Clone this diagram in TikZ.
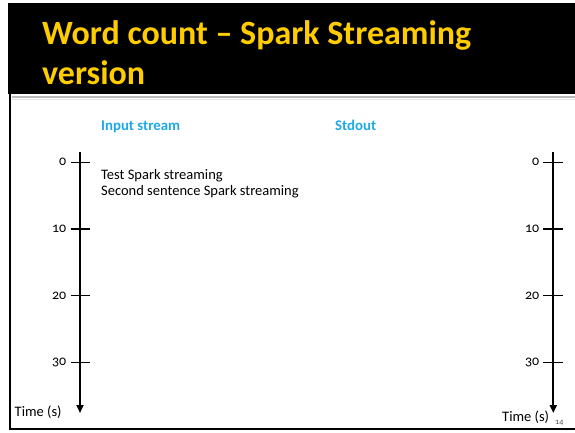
\documentclass[tikz,border=0pt]{standalone}
\usepackage{fontspec}
\setmainfont{Carlito}[Numbers=OldStyle]
\usetikzlibrary{arrows.meta}
\definecolor{titleyellow}{HTML}{FFCC00}
\definecolor{headblue}{HTML}{1EAAE8}
\begin{document}
\begin{tikzpicture}[x=1pt,y=-1pt,
  title/.style={anchor=base west,inner sep=0pt,text=titleyellow,font=\fontsize{34}{40}\selectfont\bfseries},
  head/.style={anchor=base west,inner sep=0pt,text=headblue,font=\fontsize{14.8}{17}\selectfont\bfseries},
  body/.style={anchor=base west,inner sep=0pt,font=\fontsize{14.5}{17}\selectfont},
  ticklabel/.style={anchor=base east,inner sep=0pt,font=\fontsize{14}{16}\selectfont},
  timelabel/.style={anchor=base west,inner sep=0pt,font=\fontsize{14.5}{17}\selectfont},
  axis/.style={line width=2pt,-{Triangle[length=8pt,width=7pt]}},
  tick/.style={line width=1.2pt}]
\useasboundingbox (0,0) rectangle (575,432);
\fill[white] (0,0) rectangle (575,432);
% header
\fill[black] (8,3) rectangle (575,94);
\node[title] (t1) at (42,44.5) {Word count – Spark Streaming};
\node[title] (t2) at (42,84) {version};
% frame
\draw[gray!55,line width=1.2pt] (12,97) -- (575,97);
\draw[gray!20,line width=0.8pt] (12,99) -- (575,99);
\draw[black,line width=2pt] (10,94) -- (10,429) -- (575,429);
% headers
\node[head] (in) at (101,130) {Input stream};
\node[head] (out) at (335,130) {Stdout};
% input text
\node[body] (l1) at (101,179) {Test Spark streaming};
\node[body] (l2) at (101,195) {Second sentence Spark streaming};
% left axis
\coordinate (la) at (80,151.5);
\coordinate (lb) at (80,413);
\draw[axis] (la) -- (lb);
\foreach \v/\y in {0/162.3,10/229,20/295.7,30/362.4}{
  \coordinate (lt\v a) at (70.5,\y);
  \coordinate (lt\v b) at (90,\y);
  \draw[tick] (lt\v a) -- (lt\v b);
  \node[ticklabel] (ll\v) at (66.5,\y+3.5) {\v};
}
\node[timelabel] (ltime) at (14.5,416.5) {Time (s)};
% right axis
\coordinate (ra) at (553.3,151.5);
\coordinate (rb) at (553.3,413);
\draw[axis] (ra) -- (rb);
\foreach \v/\y in {0/162.3,10/229,20/295.7,30/362.4}{
  \coordinate (rt\v a) at (543.3,\y);
  \coordinate (rt\v b) at (562.7,\y);
  \draw[tick] (rt\v a) -- (rt\v b);
  \node[ticklabel] (rl\v) at (539.5,\y+3.5) {\v};
}
\node[timelabel] (rtime) at (502,421.5) {Time (s)};
\node[anchor=base west,inner sep=0pt,text=black!70,font=\fontsize{8}{9}\selectfont] (pg) at (555,424) {14};
\end{tikzpicture}
\end{document}
